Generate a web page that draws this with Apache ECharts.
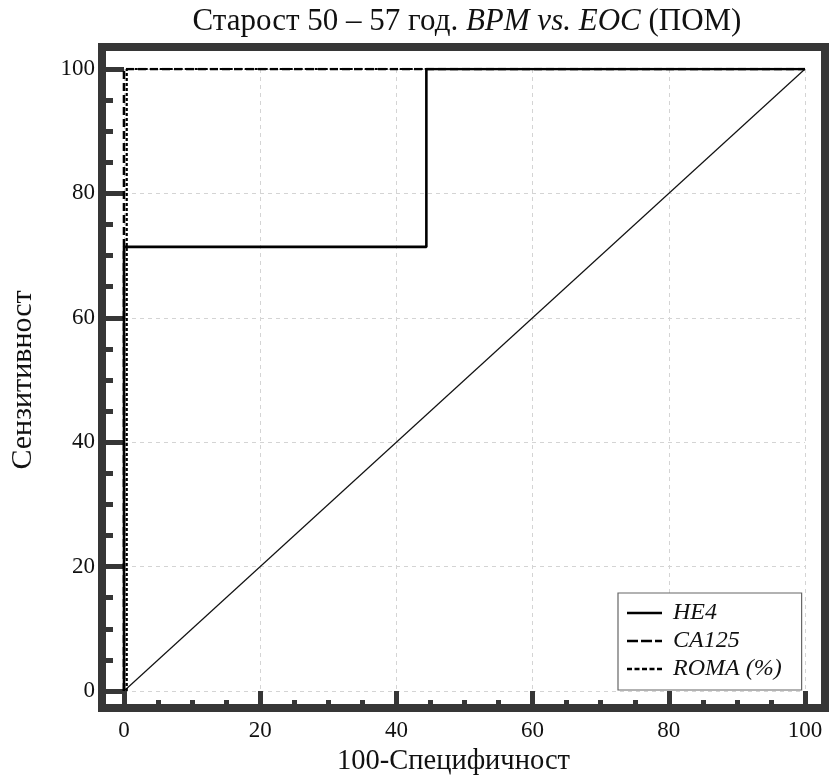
<!DOCTYPE html>
<html><head><meta charset="utf-8">
<script src="https://cdn.jsdelivr.net/npm/echarts@6/dist/echarts.min.js"></script>
<style>html,body{margin:0;padding:0;background:#fff}#c{width:830px;height:782px}</style>
</head><body><div id="c"></div>
<script>
const seriesNames = ['HE4', 'CA125', 'ROMA (%)'];
const he4 = [[0, 0], [0, 71.4], [44.4, 71.4], [44.4, 100], [100, 100]];
const ca125 = [[0, 0], [0, 100], [100, 100]];
const roma = [[0.4, 0], [0.4, 100], [100, 100]];
const diagonal = [[0, 0], [100, 100]];
const xTicks = [0, 20, 40, 60, 80, 100];
const yTicks = [0, 20, 40, 60, 80, 100];

const chart = echarts.init(document.getElementById('c'), null, {renderer: 'canvas'});
const FR = '#363636';
const serif = 'Liberation Serif';
const icons = {
  'HE4': 'path://M0,0H35V2.5H0Z',
  'CA125': 'path://M0,0H11V2.5H0Z M14,0H25V2.5H14Z M28,0H35V2.5H28Z',
  'ROMA (%)': 'path://M0,0H5V2.5H0Z M7.5,0H12.5V2.5H7.5Z M15,0H20V2.5H15Z M22.5,0H27.5V2.5H22.5Z M30,0H35V2.5H30Z'
};
chart.setOption({
  backgroundColor: '#fff',
  animation: false,
  title: {
    text: '{n|Старост 50 – 57 год. }{i|BPM vs. EOC}{n| (ПОМ)}',
    left: 462, top: 1, textAlign: 'center',
    textStyle: {
      rich: {
        n: {fontFamily: serif, fontSize: 31, fontWeight: 'normal', color: '#111'},
        i: {fontFamily: serif, fontSize: 31, fontWeight: 'normal', fontStyle: 'italic', color: '#111'}
      }
    }
  },
  grid: {left: 124, right: 25, top: 69, bottom: 91, outerBoundsMode: 'none', containLabel: false},
  graphic: [{
    type: 'rect', z: 100, silent: true,
    shape: {x: 102, y: 47, width: 723, height: 661},
    style: {fill: 'none', stroke: FR, lineWidth: 8}
  }],
  legend: {
    left: 618, top: 593, orient: 'vertical',
    data: seriesNames.map(n => ({name: n, icon: icons[n]})),
    itemWidth: 35, itemHeight: 2.5, itemGap: 4,
    padding: [8, 20, 9, 9],
    itemStyle: {color: '#000', borderWidth: 0, opacity: 1},
    borderColor: '#666', borderWidth: 1.2, backgroundColor: '#fff',
    textStyle: {fontFamily: serif, fontSize: 24, fontStyle: 'italic', color: '#111', padding: [0, 0, 0, 6]}
  },
  xAxis: {
    type: 'value', min: 0, max: 100, interval: 20, offset: 17,
    name: '100-Специфичност', nameLocation: 'middle', nameGap: 38,
    nameTextStyle: {fontFamily: serif, fontSize: 28.5, color: '#111', padding: [0, 22, 0, 0]},
    axisLine: {show: true, onZero: false, lineStyle: {color: FR, width: 8}},
    axisTick: {show: true, inside: true, length: 17, lineStyle: {color: FR, width: 5}},
    minorTick: {show: true, splitNumber: 4, length: 8, lineStyle: {color: FR, width: 5}},
    axisLabel: {margin: 11, fontFamily: serif, fontSize: 23, color: '#111',
      formatter: v => xTicks.includes(v) ? String(v) : ''},
    splitLine: {show: true, lineStyle: {color: '#d4d4d4', type: [4, 4], width: 1}}
  },
  yAxis: {
    type: 'value', min: 0, max: 100, interval: 20, offset: 22,
    name: 'Сензитивност', nameLocation: 'middle', nameGap: 64, nameRotate: 90,
    nameTextStyle: {fontFamily: serif, fontSize: 30, color: '#111'},
    axisLine: {show: true, onZero: false, lineStyle: {color: FR, width: 8}},
    axisTick: {show: true, inside: true, length: 22, lineStyle: {color: FR, width: 5}},
    minorTick: {show: true, splitNumber: 4, length: 11, lineStyle: {color: FR, width: 5}},
    axisLabel: {margin: 7, fontFamily: serif, fontSize: 23, color: '#111',
      formatter: v => yTicks.includes(v) ? String(v) : ''},
    splitLine: {show: true, lineStyle: {color: '#d4d4d4', type: [4, 4], width: 1}}
  },
  series: [
    {name: 'diag', type: 'line', data: diagonal, symbol: 'none', silent: true,
      lineStyle: {color: '#111', width: 1.2}, z: 2},
    {name: 'HE4', type: 'line', data: he4, symbol: 'none',
      lineStyle: {color: '#000', width: 2.6, type: 'solid'}, itemStyle: {color: '#000'}, z: 3},
    {name: 'CA125', type: 'line', data: ca125, symbol: 'none',
      lineStyle: {color: '#000', width: 2.6, type: [8, 4]}, itemStyle: {color: '#000'}, z: 4},
    {name: 'ROMA (%)', type: 'line', data: roma, symbol: 'none',
      lineStyle: {color: '#000', width: 2.2, type: [3, 2]}, itemStyle: {color: '#000'}, z: 5}
  ]
});
</script></body></html>
